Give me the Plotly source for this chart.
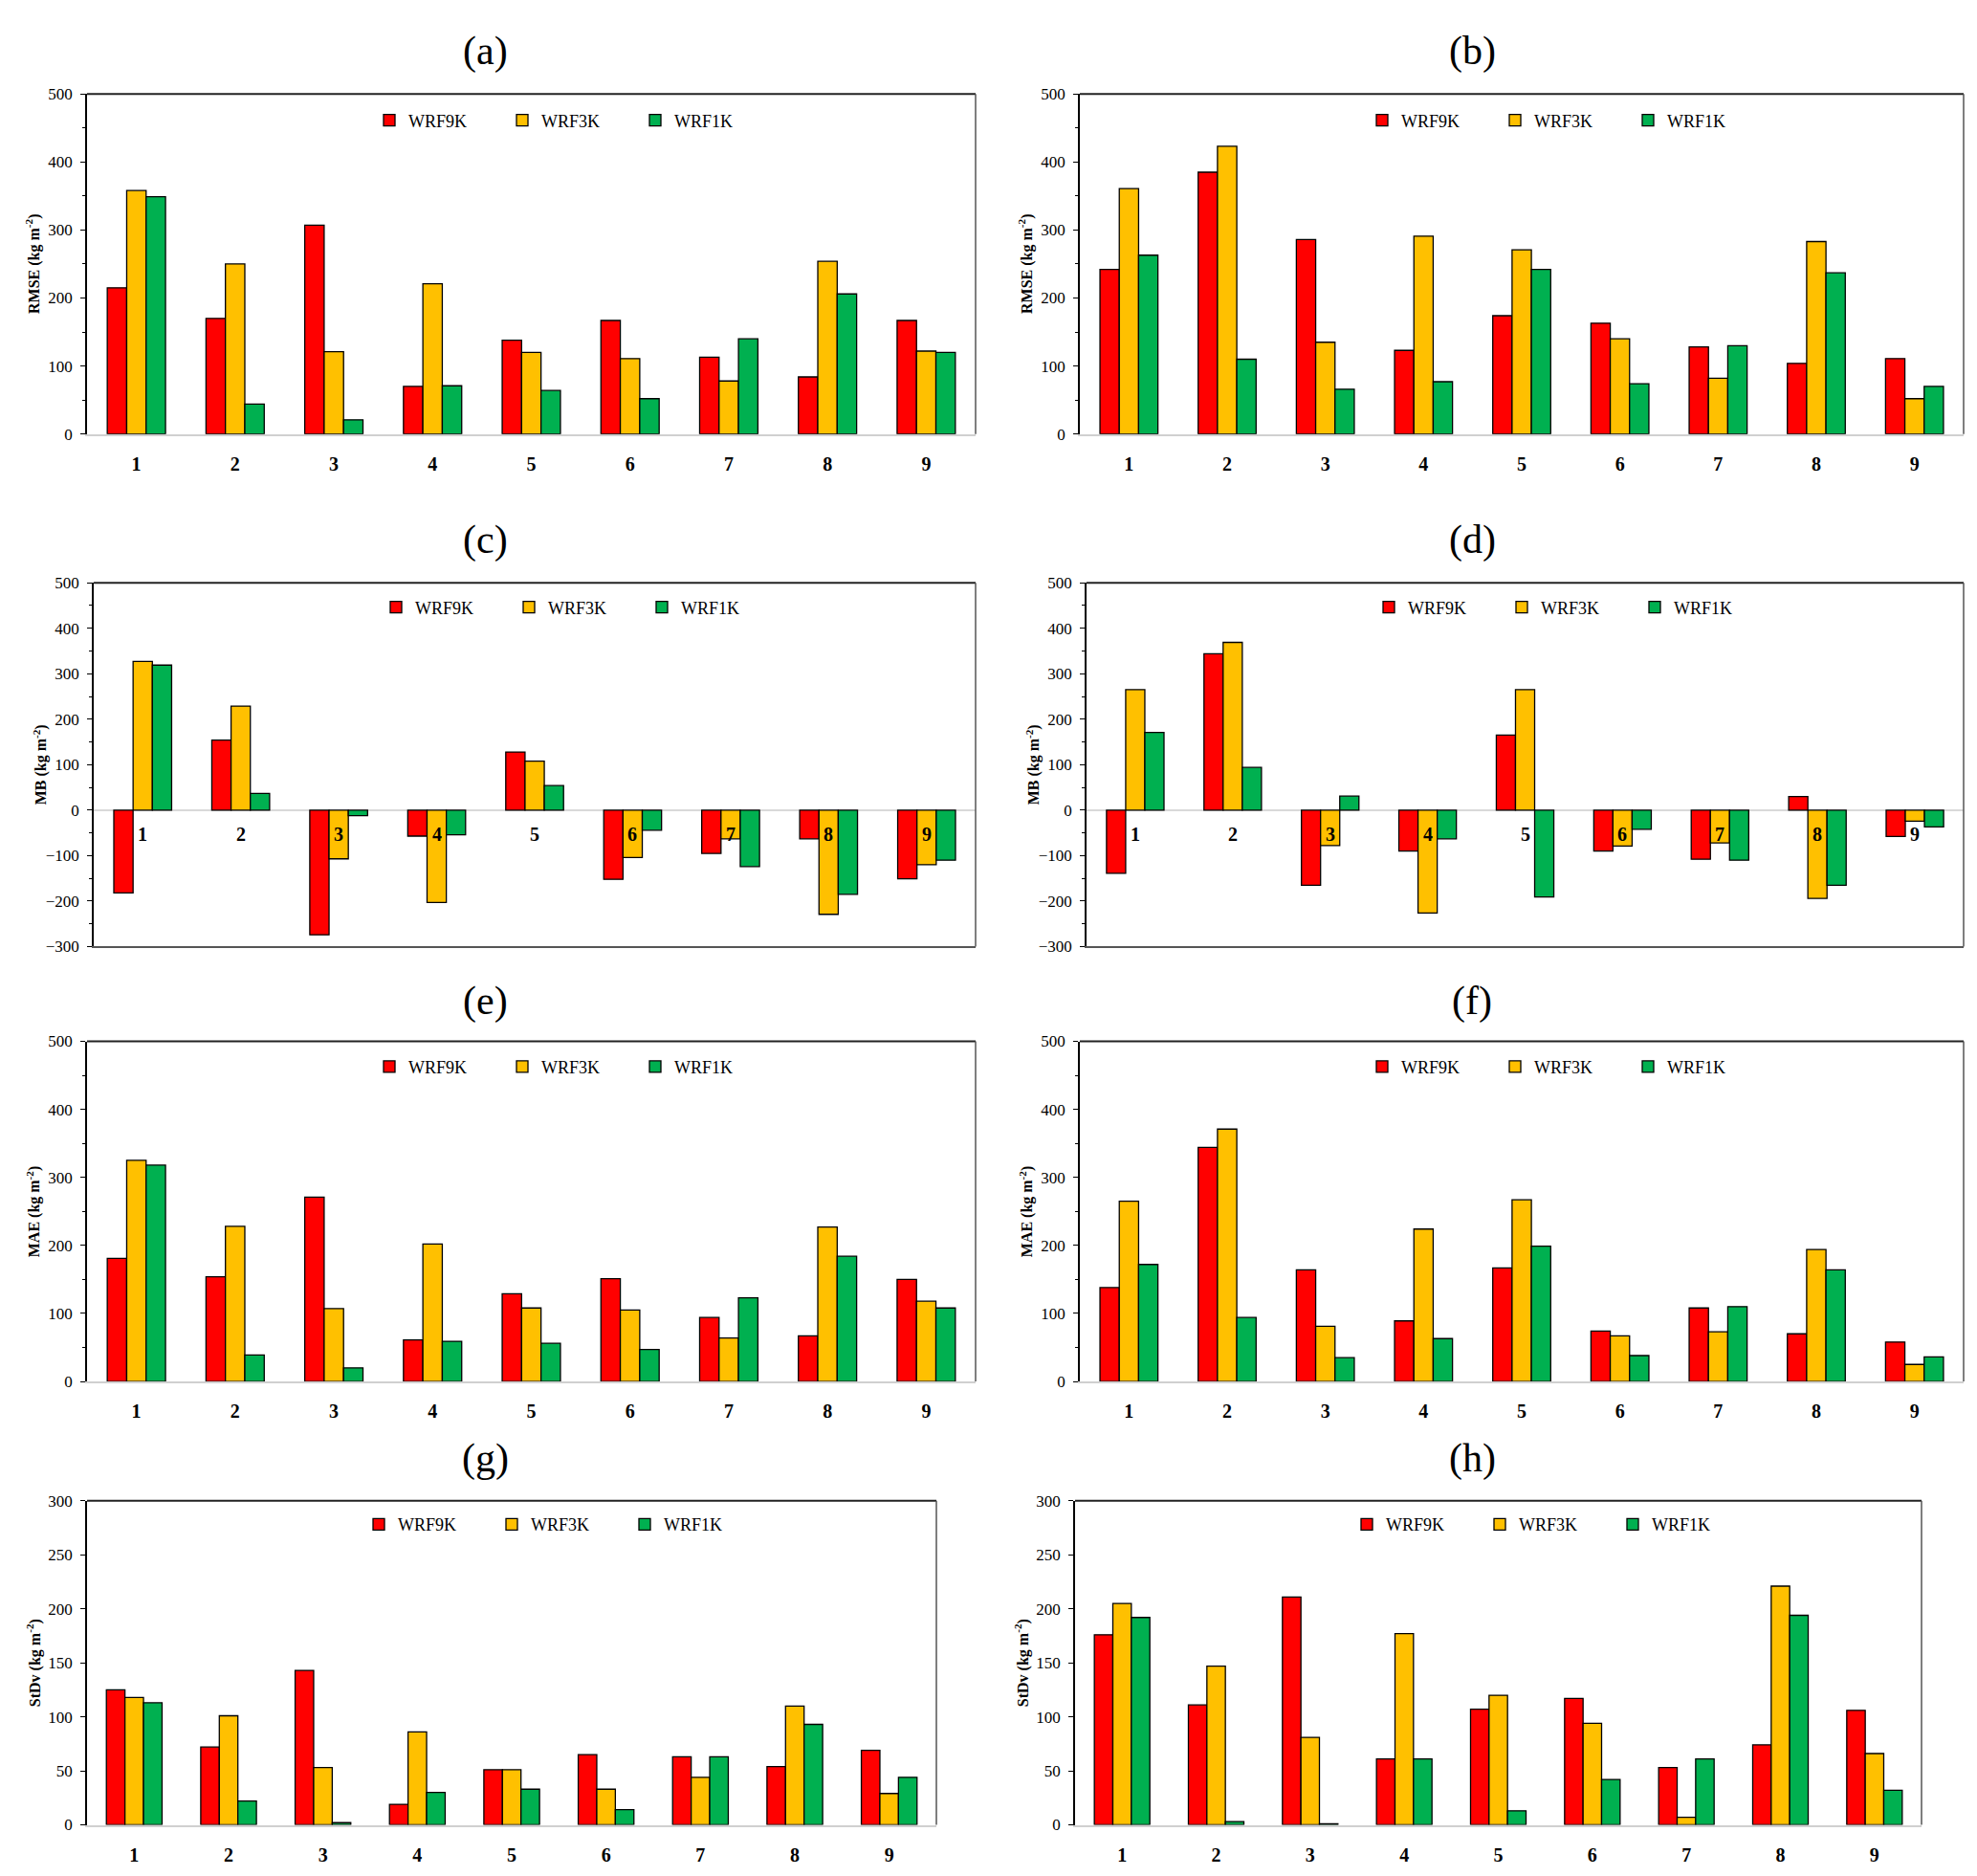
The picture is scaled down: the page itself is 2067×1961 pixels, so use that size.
import plotly.graph_objects as go

# ---------------- data ----------------
categories = ['1', '2', '3', '4', '5', '6', '7', '8', '9']
series_names = ['WRF9K', 'WRF3K', 'WRF1K']

rmse_a_9k = [215, 170, 307, 70, 138, 167, 113, 84, 167]
rmse_a_3k = [358, 250, 121, 221, 120, 111, 78, 254, 122]
rmse_a_1k = [349, 44, 21, 71, 64, 52, 140, 206, 120]

rmse_b_9k = [242, 385, 286, 123, 174, 163, 128, 104, 111]
rmse_b_3k = [361, 423, 135, 291, 271, 140, 82, 283, 52]
rmse_b_1k = [263, 110, 66, 77, 242, 74, 130, 237, 70]

mb_c_9k = [-182, 154, -274, -57, 128, -152, -95, -63, -151]
mb_c_3k = [327, 229, -107, -203, 108, -104, -63, -229, -120]
mb_c_1k = [319, 37, -12, -54, 54, -44, -124, -185, -110]

mb_d_9k = [-139, 344, -165, -90, 165, -90, -108, 30, -58]
mb_d_3k = [265, 369, -78, -226, 265, -79, -72, -194, -24]
mb_d_1k = [171, 94, 31, -63, -191, -42, -110, -165, -37]

mae_e_9k = [181, 154, 271, 61, 129, 151, 94, 67, 150]
mae_e_3k = [325, 228, 107, 202, 108, 105, 64, 227, 118]
mae_e_1k = [318, 39, 20, 59, 56, 47, 123, 184, 108]

mae_f_9k = [138, 344, 164, 89, 167, 74, 108, 70, 58]
mae_f_3k = [265, 371, 81, 224, 267, 67, 73, 194, 25]
mae_f_1k = [172, 94, 35, 63, 199, 38, 110, 164, 36]

std_g_9k = [125, 72, 143, 19, 51, 65, 63, 54, 69]
std_g_3k = [118, 101, 53, 86, 51, 33, 44, 110, 29]
std_g_1k = [113, 22, 2, 30, 33, 14, 63, 93, 44]

std_h_9k = [176, 111, 211, 61, 107, 117, 53, 74, 106]
std_h_3k = [205, 147, 81, 177, 120, 94, 7, 221, 66]
std_h_1k = [192, 3, 1, 61, 13, 42, 61, 194, 32]

panel_labels = ['(a)', '(b)', '(c)', '(d)', '(e)', '(f)', '(g)', '(h)']
y_titles = ['RMSE', 'RMSE', 'MB', 'MB', 'MAE', 'MAE', 'StDv', 'StDv']
panel_data = [
    (rmse_a_9k, rmse_a_3k, rmse_a_1k),
    (rmse_b_9k, rmse_b_3k, rmse_b_1k),
    (mb_c_9k, mb_c_3k, mb_c_1k),
    (mb_d_9k, mb_d_3k, mb_d_1k),
    (mae_e_9k, mae_e_3k, mae_e_1k),
    (mae_f_9k, mae_f_3k, mae_f_1k),
    (std_g_9k, std_g_3k, std_g_1k),
    (std_h_9k, std_h_3k, std_h_1k),
]

# ---------------- styling / layout ----------------
W, H = 2067, 1961
colors = ['#FF0000', '#FFC000', '#00B050']
FONT = 'Liberation Serif'

# pixel boxes of plot areas: (left, right, top, bottom)
boxes = [
    (83, 1012, 82, 441), (1121, 2045, 82, 441),
    (90, 1012, 598, 982), (1128, 2045, 598, 982),
    (83, 1012, 1082, 1441), (1121, 2045, 1082, 1441),
    (83, 971, 1567, 1909), (1116, 2001, 1567, 1909),
]
title_pos = [(499, 37), (1531, 37), (499, 553), (1531, 553),
             (499, 1040), (1531, 1040), (499, 1522), (1531, 1522)]
legend_offset = [318, 318, 318, 318, 318, 318, 307, 307]
legend_dy = [28, 28, 26, 26, 27, 27, 25, 25]

fig = go.Figure()
layout = dict(
    width=W, height=H, paper_bgcolor='white', plot_bgcolor='white',
    margin=dict(l=0, r=0, t=0, b=0), barmode='group',
    bargap=0.41, bargroupgap=0, font=dict(family=FONT, color='black'),
)
annotations = []
shapes = []

for i in range(8):
    L, R, T, B = boxes[i]
    xa = 'xaxis' if i == 0 else f'xaxis{i + 1}'
    ya = 'yaxis' if i == 0 else f'yaxis{i + 1}'
    xr = 'x' if i == 0 else f'x{i + 1}'
    yr = 'y' if i == 0 else f'y{i + 1}'
    lg = 'legend' if i == 0 else f'legend{i + 1}'
    is_mb = y_titles[i] == 'MB'
    is_std = y_titles[i] == 'StDv'

    for s in range(3):
        fig.add_trace(go.Bar(
            x=categories, y=panel_data[i][s], name=series_names[s],
            marker=dict(color=colors[s], line=dict(color='black', width=1.3)),
            xaxis=xr, yaxis=yr, legend=lg, showlegend=True,
        ))

    layout[xa] = dict(
        domain=[L / W, R / W], anchor=yr, type='category',
        range=[-0.5, 8.5], showgrid=False, zeroline=False,
        showline=True, linecolor='#555555' if is_mb else '#d0d0d0',
        linewidth=2, ticks='', showticklabels=not is_mb,
        tickfont=dict(family=FONT, size=20, color='black', weight='bold'),
        ticklabelstandoff=12, fixedrange=True,
    )
    if is_mb:
        yrange, dtick, minor = [-300, 500], 100, 50
    elif is_std:
        yrange, dtick, minor = [0, 300], 50, None
    else:
        yrange, dtick, minor = [0, 500], 100, 50
    ydict = dict(
        domain=[1 - B / H, 1 - T / H], anchor=xr, range=yrange, dtick=dtick,
        showgrid=False, showline=True, linecolor='black', linewidth=1.5,
        ticks='outside', ticklen=5, tickcolor='black', tickwidth=1.2,
        tickfont=dict(family=FONT, size=17, color='black'),
        ticklabelstandoff=5, fixedrange=True,
        zeroline=is_mb, zerolinecolor='#d9d9d9', zerolinewidth=2,
    )
    if minor:
        ydict['minor'] = dict(dtick=minor, ticks='outside', ticklen=3,
                              tickcolor='black', tickwidth=1.2, showgrid=False)
    layout[ya] = ydict

    # top and right borders
    shapes.append(dict(type='line', xref=f'{xr} domain', yref=f'{yr} domain',
                       x0=0, x1=1, y0=1, y1=1, line=dict(color='#222222', width=2)))
    shapes.append(dict(type='line', xref=f'{xr} domain', yref=f'{yr} domain',
                       x0=1, x1=1, y0=0, y1=1, line=dict(color='#555555', width=1.5)))

    # legend
    layout[lg] = dict(
        orientation='h', x=(L + legend_offset[i] - 22) / W, xanchor='left',
        y=1 - (T + legend_dy[i]) / H, yanchor='middle',
        font=dict(family=FONT, size=18, color='black'),
        bgcolor='rgba(0,0,0,0)', borderwidth=0,
        entrywidth=94, entrywidthmode='pixels', itemclick=False,
    )

    # panel title
    tx, ty = title_pos[i]
    annotations.append(dict(text=panel_labels[i], x=tx / W, y=1 - ty / H,
                            xref='paper', yref='paper', showarrow=False,
                            xanchor='center', yanchor='middle',
                            font=dict(family=FONT, size=42, color='black')))
    # y-axis title
    annotations.append(dict(text=f'<b>{y_titles[i]} (kg m<sup>-2</sup>)</b>',
                            x=(L - 56) / W, y=1 - ((T + B) / 2) / H,
                            xref='paper', yref='paper', showarrow=False,
                            textangle=-90, xanchor='center', yanchor='middle',
                            font=dict(family=FONT, size=16, color='black')))
    # category labels next to the zero line for MB panels
    if is_mb:
        for k, c in enumerate(categories):
            annotations.append(dict(text=f'<b>{c}</b>', x=k, y=0, xref=xr, yref=yr,
                                    showarrow=False, yanchor='middle', yshift=-25,
                                    font=dict(family=FONT, size=20, color='black')))

layout['annotations'] = annotations
layout['shapes'] = shapes
fig.update_layout(**layout)
fig.write_html('out.html')
